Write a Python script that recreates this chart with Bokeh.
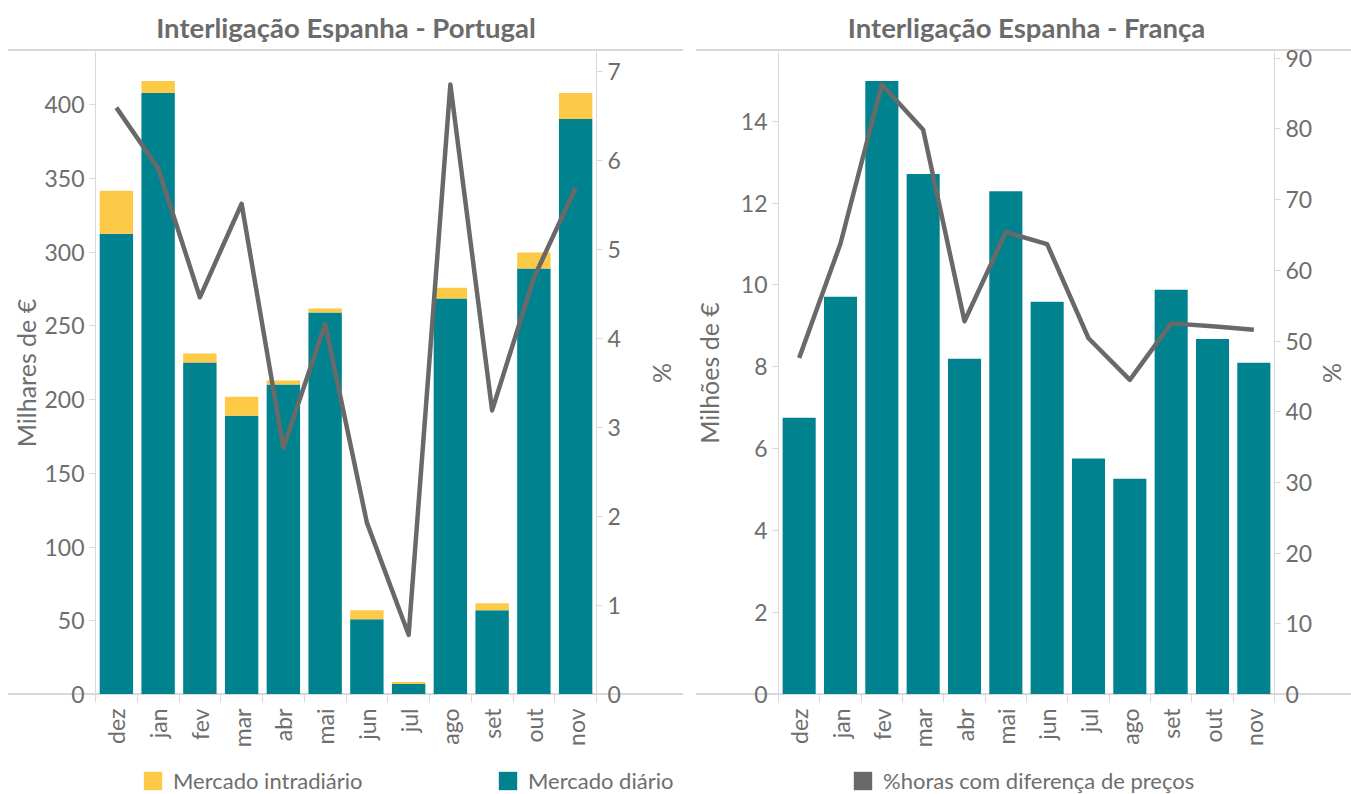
import math

from bokeh.embed import file_html
from bokeh.layouts import column, row
from bokeh.models import (ColumnDataSource, FixedTicker, Legend, LegendItem,
                          LinearAxis, Range1d)
from bokeh.plotting import figure
from bokeh.resources import INLINE

# ---- data -------------------------------------------------------------
months = ["dez", "jan", "fev", "mar", "abr", "mai",
          "jun", "jul", "ago", "set", "out", "nov"]

# Espanha - Portugal: congestion rents (thousand €) and % hours with price split
pt_diario = [312.5, 408.0, 225.1, 189.0, 210.3, 259.1,
             51.1, 7.1, 268.5, 57.2, 288.9, 390.4]
pt_intradiario = [29.1, 8.1, 6.1, 12.9, 2.7, 2.7,
                  6.1, 1.4, 7.4, 4.7, 10.8, 17.6]
pt_pct_horas = [6.59, 5.91, 4.46, 5.51, 2.77, 4.16,
                1.93, 0.67, 6.85, 3.19, 4.68, 5.69]

# Espanha - França: congestion rents (million €) and % hours with price split
fr_diario = [6.76, 9.71, 14.98, 12.71, 8.20, 12.29,
             9.59, 5.76, 5.27, 9.88, 8.68, 8.10]
fr_pct_horas = [47.6, 63.8, 86.3, 79.9, 52.8, 65.4,
                63.7, 50.4, 44.5, 52.5, 52.1, 51.6]

pt_ticks = list(range(0, 401, 50))
pt_pct_ticks = list(range(0, 8))
fr_ticks = list(range(0, 15, 2))
fr_pct_ticks = list(range(0, 91, 10))

legend_labels = ["Mercado intradiário", "Mercado diário",
                 "%horas com diferença de preços"]

# ---- style ------------------------------------------------------------
TEAL = "#00838F"
YELLOW = "#FCCA46"
GREY = "#696969"
RULE = "#d9d9d9"
TEXT = "#6e6e6e"
FONT = "Lato"
TICK_SIZE = "23px"
LABEL_SIZE = "25px"
CHART_H = 764
KEY_H = 30

centres = [i + 0.5 for i in range(len(months))]
bounds = list(range(len(months) + 1))


def pane_rules(x0, length):
    # light pane borders at the top and bottom of the plot area that run
    # past the frame into the axis gutters (painted behind the canvas)
    g = f"linear-gradient({RULE}, {RULE})"
    return {"background": f"{g} {x0}px 49px / {length}px 2px no-repeat, "
                          f"{g} {x0}px 693px / {length}px 2px no-repeat, white"}


def base_figure(title, width, left, right, y_max):
    p = figure(width=width, height=CHART_H, x_range=Range1d(0, len(months)),
               y_range=Range1d(0, y_max), output_backend="svg",
               toolbar_location=None, min_border_left=left,
               min_border_right=right, min_border_top=50,
               min_border_bottom=CHART_H - 694, title=title)
    p.outline_line_color = None
    p.border_fill_color = None
    p.background_fill_color = None
    p.xgrid.visible = False
    p.ygrid.visible = False
    p.title.align = "center"
    p.title.text_font = FONT
    p.title.text_font_size = "27.5px"
    p.title.text_font_style = "bold"
    p.title.text_color = "#6b6b6b"
    p.title.standoff = 16

    xa = p.xaxis[0]
    xa.ticker = FixedTicker(ticks=centres, minor_ticks=bounds)
    xa.major_label_overrides = {c: m for c, m in zip(centres, months)}
    xa.major_label_orientation = math.pi / 2
    xa.major_tick_line_color = None
    xa.major_tick_out = 0
    xa.major_tick_in = 0
    xa.minor_tick_line_color = RULE
    xa.minor_tick_out = 8
    xa.minor_tick_in = 0
    xa.major_label_standoff = 6
    xa.axis_line_color = RULE
    xa.major_label_text_font = FONT
    xa.major_label_text_font_size = TICK_SIZE
    xa.major_label_text_color = TEXT
    return p


def style_y(ax, ticks, label, label_standoff):
    ax.ticker = FixedTicker(ticks=ticks)
    ax.axis_label = label
    ax.axis_label_standoff = label_standoff
    ax.axis_label_text_font = FONT
    ax.axis_label_text_font_size = LABEL_SIZE
    ax.axis_label_text_font_style = "normal"
    ax.axis_label_text_color = TEXT
    ax.axis_line_color = RULE
    ax.major_tick_line_color = RULE
    ax.major_tick_out = 6
    ax.major_tick_in = 0
    ax.minor_tick_line_color = None
    ax.major_label_standoff = 5
    ax.major_label_text_font = FONT
    ax.major_label_text_font_size = TICK_SIZE
    ax.major_label_text_color = TEXT


# ---- Espanha - Portugal -----------------------------------------------
pt_src = ColumnDataSource(dict(x=centres, diario=pt_diario,
                               intradiario=pt_intradiario, pct=pt_pct_horas))
p1 = base_figure("Interligação Espanha - Portugal", 689, 95, 93, 436.1)
p1.styles = pane_rules(8, 675)
p1.extra_y_ranges = {"pct": Range1d(0, 7.22)}
p1.vbar_stack(["diario", "intradiario"], x="x", width=0.8,
              source=pt_src, color=[TEAL, YELLOW], line_color=None)
p1.line(x="x", y="pct", source=pt_src, y_range_name="pct",
        line_color=GREY, line_width=4.5, line_join="round")
style_y(p1.yaxis[0], pt_ticks, "Milhares de €", 0)
pct_axis1 = LinearAxis(y_range_name="pct")
style_y(pct_axis1, pt_pct_ticks, "%", 24)
p1.add_layout(pct_axis1, "right")

# ---- Espanha - França -------------------------------------------------
fr_src = ColumnDataSource(dict(x=centres, diario=fr_diario, pct=fr_pct_horas))
p2 = base_figure("Interligação Espanha - França", 662, 89, 73, 15.7)
p2.styles = pane_rules(7, 655)
p2.extra_y_ranges = {"pct": Range1d(0, 90.96)}
p2.vbar(x="x", top="diario", width=0.8, source=fr_src,
        color=TEAL, line_color=None)
p2.line(x="x", y="pct", source=fr_src, y_range_name="pct",
        line_color=GREY, line_width=4.5, line_join="round")
style_y(p2.yaxis[0], fr_ticks, "Milhões de €", 14)
pct_axis2 = LinearAxis(y_range_name="pct")
style_y(pct_axis2, fr_pct_ticks, "%", 3)
p2.add_layout(pct_axis2, "right")

# ---- shared colour key along the bottom ---------------------------------
key_fig = figure(width=1351, height=KEY_H, x_range=Range1d(0, len(months)),
                 y_range=Range1d(0, 1), output_backend="svg",
                 toolbar_location=None, min_border=0,
                 x_axis_location=None, y_axis_location=None)
key_fig.outline_line_color = None
key_fig.xgrid.visible = False
key_fig.ygrid.visible = False
# swatch renderers: hidden in the strip, used for the square keys only
k_intra = key_fig.vbar(x="x", top="intradiario", width=0.8, source=pt_src,
                       color=YELLOW, line_color=None, visible=False)
k_diario = key_fig.vbar(x="x", top="diario", width=0.8, source=pt_src,
                        color=TEAL, line_color=None, visible=False)
k_pct = key_fig.vbar(x="x", top="pct", width=0.8, source=fr_src,
                     color=GREY, line_color=None, visible=False)
key = Legend(items=[LegendItem(label=legend_labels[0], renderers=[k_intra]),
                    LegendItem(label=legend_labels[1], renderers=[k_diario]),
                    LegendItem(label=legend_labels[2], renderers=[k_pct])],
             location=(141, 0), orientation="horizontal",
             glyph_width=23, glyph_height=23, label_height=23,
             label_width=323, label_standoff=9, padding=0, margin=0,
             spacing=0, border_line_color=None, background_fill_alpha=0,
             inactive_fill_alpha=0,
             label_text_font=FONT, label_text_font_size="22px",
             label_text_color=TEXT)
key_fig.add_layout(key)

layout = column(row(p1, p2, spacing=0), key_fig, spacing=0)
open("out.html", "w").write(file_html(layout, INLINE))
